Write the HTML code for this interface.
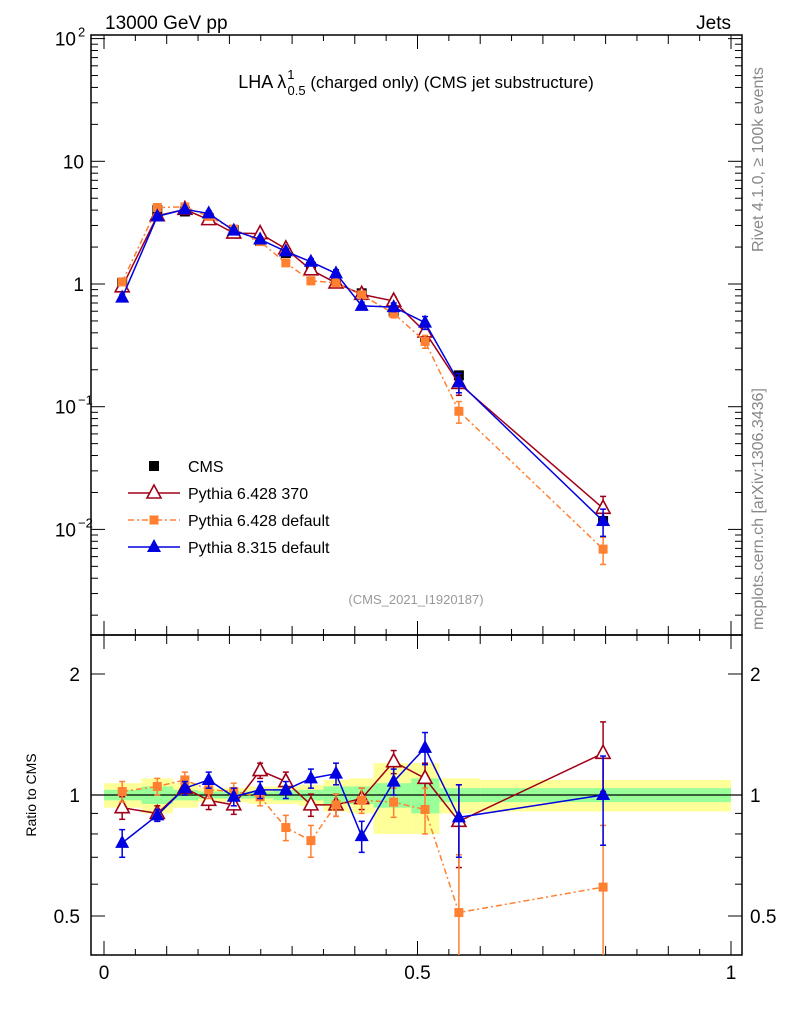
<!DOCTYPE html>
<html><head><meta charset="utf-8"><style>
body{margin:0;background:#fff;}
svg{display:block;font-family:"Liberation Sans",sans-serif;}
</style></head><body>
<svg id="chart" width="786" height="1024" viewBox="0 0 786 1024" xmlns="http://www.w3.org/2000/svg">
<defs>
<clipPath id="cm"><rect x="91" y="35" width="651" height="600"/></clipPath>
<clipPath id="cr"><rect x="91" y="635" width="651" height="320"/></clipPath>
</defs>
<g id="bands"></g>
<g id="axes"></g>
<g id="series"></g>
<text x="105" y="29" font-size="19">13000 GeV pp</text>
<text x="731" y="29" font-size="19" text-anchor="end">Jets</text>
<text x="416" y="88" font-size="18" text-anchor="middle">LHA λ<tspan font-size="13" dy="-9" dx="1">1</tspan><tspan font-size="13" dy="16" dx="-7">0.5</tspan><tspan dy="-7" font-size="17"> (charged only) (CMS jet substructure)</tspan></text>
<text transform="translate(763,252) rotate(-90)" font-size="16" fill="#888">Rivet 4.1.0, ≥ 100k events</text>
<text transform="translate(763,630) rotate(-90)" font-size="16" fill="#888">mcplots.cern.ch [arXiv:1306.3436]</text>
<text x="416" y="604" font-size="13" fill="#999" text-anchor="middle">(CMS_2021_I1920187)</text>
<text transform="translate(36,795) rotate(-90)" font-size="14" text-anchor="middle">Ratio to CMS</text>
<g id="legend"></g>
</svg>
<script>
const xCenters=[0.029,0.085,0.129,0.167,0.207,0.249,0.290,0.330,0.370,0.411,0.462,0.512,0.566,0.796];
const binEdges=[0,0.06,0.11,0.15,0.185,0.23,0.27,0.31,0.35,0.39,0.43,0.49,0.535,0.6,1.0];
const cmsValues=[1.02,4.0,3.9,3.45,2.75,2.24,1.79,1.38,1.08,0.84,0.60,0.37,0.18,0.0117];
const statBand=[0.03,0.05,0.03,0.02,0.02,0.02,0.03,0.03,0.05,0.05,0.07,0.1,0.04,0.04];
const totalBand=[0.07,0.1,0.07,0.04,0.04,0.05,0.05,0.06,0.09,0.1,0.2,0.2,0.1,0.09];
const py6370Ratio=[0.93,0.90,1.04,0.97,0.945,1.15,1.08,0.945,0.945,0.98,1.21,1.10,0.86,1.27];
const py6370Err=[0.06,0.04,0.04,0.05,0.05,0.05,0.06,0.06,0.06,0.06,0.08,0.1,0.2,0.25];
const py6defRatio=[1.02,1.05,1.09,1.03,1.02,0.99,0.83,0.77,0.945,0.97,0.96,0.92,0.51,0.59];
const py6defErr=[0.06,0.05,0.05,0.05,0.05,0.05,0.06,0.07,0.06,0.07,0.08,0.12,0.2,0.25];
const py8Ratio=[0.76,0.89,1.04,1.09,0.99,1.03,1.03,1.10,1.13,0.79,1.08,1.31,0.88,1.0];
const py8Err=[0.06,0.03,0.04,0.05,0.05,0.05,0.05,0.06,0.07,0.07,0.08,0.12,0.18,0.25];
const yMainTicks=[0.01,0.1,1,10,100];
const yMainLabels=["10","10","1","10","10"];
const yMainExp=["−2","−1","","","2"];
const yRatioTicks=[0.5,1,2];
const xTicks=[0,0.5,1];

const NS="http://www.w3.org/2000/svg";
const L=91,R=742,T=35,MB=635,RB=955;
const X=v=>104+v*627;
const Ym=v=>284-Math.log10(v)*122.7;
const Yr=v=>795-Math.log10(v)*402;
function mk(tag,attrs,parent){const e=document.createElementNS(NS,tag);for(const k in attrs)e.setAttribute(k,attrs[k]);parent.appendChild(e);return e;}
const bands=document.getElementById('bands'),axes=document.getElementById('axes'),series=document.getElementById('series'),legend=document.getElementById('legend');

for(let i=0;i<xCenters.length;i++){
  const x0=X(binEdges[i]),x1=X(binEdges[i+1]);
  let r=mk('rect',{x:x0,y:Yr(1+totalBand[i]),width:x1-x0,height:Yr(1-totalBand[i])-Yr(1+totalBand[i]),fill:'#ffff99'},bands);
  
  
  let g=mk('rect',{x:x0,y:Yr(1+statBand[i]),width:x1-x0,height:Yr(1-statBand[i])-Yr(1+statBand[i]),fill:'#99ff99'},bands);
  
  
}
let f1=mk('rect',{x:L,y:T,width:R-L,height:MB-T,fill:'none',stroke:'#000','stroke-width':1.5},axes);


let f2=mk('rect',{x:L,y:MB,width:R-L,height:RB-MB,fill:'none',stroke:'#000','stroke-width':1.5},axes);


let ref=mk('line',{x1:L,x2:R,y1:Yr(1),y2:Yr(1),stroke:'#000','stroke-width':1.3},axes);


for(let d=-3;d<=2;d++){for(let m=1;m<10;m++){const v=m*Math.pow(10,d);const y=Ym(v);if(y<T||y>MB)continue;const len=m==1?14:7;
  mk('line',{x1:L,x2:L+len,y1:y,y2:y,stroke:'#000'},axes);mk('line',{x1:R,x2:R-len,y1:y,y2:y,stroke:'#000'},axes);}}
yMainTicks.forEach((v,i)=>{const y=Ym(v);
  const t=mk('text',{x:yMainExp[i]?76:84,y:y+7,'font-size':19,'text-anchor':'end'},axes);t.textContent=yMainLabels[i];
  
  
  if(yMainExp[i]){const e=mk('text',{x:78,y:y-2,'font-size':13},axes);e.textContent=yMainExp[i];
  
  }});
[0.4,0.5,0.6,0.7,0.8,0.9,1,2].forEach(v=>{const y=Yr(v);const len=(v==0.5||v==1||v==2)?14:7;
  mk('line',{x1:L,x2:L+len,y1:y,y2:y,stroke:'#000'},axes);mk('line',{x1:R,x2:R-len,y1:y,y2:y,stroke:'#000'},axes);});
yRatioTicks.forEach(v=>{const y=Yr(v);
  const t=mk('text',{x:80,y:y+7,'font-size':19,'text-anchor':'end'},axes);t.textContent=v;
  
  
  const t2=mk('text',{x:750,y:y+7,'font-size':19},axes);t2.textContent=v;
  
  });
for(let k=0;k<=20;k++){const v=k*0.05,x=X(v);const len=(k%10==0)?14:(k%2==0?9:6);
  mk('line',{x1:x,x2:x,y1:RB,y2:RB-len,stroke:'#000'},axes);
  mk('line',{x1:x,x2:x,y1:MB,y2:MB-len,stroke:'#000'},axes);
  mk('line',{x1:x,x2:x,y1:T,y2:T+len,stroke:'#000'},axes);
  mk('line',{x1:x,x2:x,y1:MB,y2:MB+len,stroke:'#000'},axes);}
xTicks.forEach(v=>{const t=mk('text',{x:X(v),y:979,'font-size':19,'text-anchor':'middle'},axes);t.textContent=v;
  
  });

function marker(type,color,x,y,parent){
  if(type=='sq')return mk('rect',{x:x-5,y:y-5,width:10,height:10,fill:color},parent);
  if(type=='osq')return mk('rect',{x:x-4.5,y:y-4.5,width:9,height:9,fill:color},parent);
  if(type=='otri')return mk('polygon',{points:`${x},${y-8} ${x-7},${y+5} ${x+7},${y+5}`,fill:'#fff',stroke:color,'stroke-width':1.6},parent);
  return mk('polygon',{points:`${x},${y-8} ${x-7},${y+5} ${x+7},${y+5}`,fill:color},parent);
}
function drawSeries(name,ratios,errs,color,type,dash){
  const g=mk('g',{},series);
  
  
  const gm=mk('g',{'clip-path':'url(#cm)'},g);
  const gr=mk('g',{'clip-path':'url(#cr)'},g);
  const mainPts=xCenters.map((x,i)=>[X(x),Ym(cmsValues[i]*ratios[i])]);
  const rPts=xCenters.map((x,i)=>[X(x),Yr(ratios[i])]);
  [[mainPts,gm],[rPts,gr]].forEach(([p,pg])=>{const pl=mk('polyline',{points:p.map(q=>q.join(',')).join(' '),fill:'none',stroke:color,'stroke-width':1.5},pg);if(dash)pl.setAttribute('stroke-dasharray',dash);});
  xCenters.forEach((x,i)=>{
    const xx=X(x),v=cmsValues[i]*ratios[i],e=errs[i];
    [[Ym(v*(1+e)),Ym(Math.max(v*(1-e),1e-4)),gm],[Yr(ratios[i]+e),Yr(Math.max(ratios[i]-e,0.3)),gr]].forEach(([a,b,pg])=>{
      mk('line',{x1:xx,x2:xx,y1:a,y2:b,stroke:color,'stroke-width':1.5},pg);
      mk('line',{x1:xx-3,x2:xx+3,y1:a,y2:a,stroke:color,'stroke-width':1.5},pg);
      mk('line',{x1:xx-3,x2:xx+3,y1:b,y2:b,stroke:color,'stroke-width':1.5},pg);});
    const m1=marker(type,color,xx,Ym(v),gm);
    
    
    const m2=marker(type,color,xx,Yr(ratios[i]),gr);
    
    
  });
}
const cg=mk('g',{},series);


xCenters.forEach((x,i)=>{const m=marker('sq','#000',X(x),Ym(cmsValues[i]),cg);
  
  });
drawSeries('pythia-6428-370',py6370Ratio,py6370Err,'#a00018','otri',null);
drawSeries('pythia-6428-default',py6defRatio,py6defErr,'#ff8030','osq','6,3,2,3');
drawSeries('pythia-8315-default',py8Ratio,py8Err,'#0000e0','tri',null);

const leg=[['CMS','#000','sq',null,false],['Pythia 6.428 370','#a00018','otri',null,true],['Pythia 6.428 default','#ff8030','osq','6,3,2,3',true],['Pythia 8.315 default','#0000e0','tri',null,true]];
leg.forEach((l,i)=>{const y=466+i*27;const g=mk('g',{},legend);
  
  
  if(l[4]){const ln=mk('line',{x1:128,x2:180,y1:y,y2:y,stroke:l[1],'stroke-width':1.5},g);if(l[3])ln.setAttribute('stroke-dasharray',l[3]);}
  marker(l[2],l[1],154,y,g);
  const t=mk('text',{x:188,y:y+6,'font-size':16},g);t.textContent=l[0];});
</script>
</body></html>
